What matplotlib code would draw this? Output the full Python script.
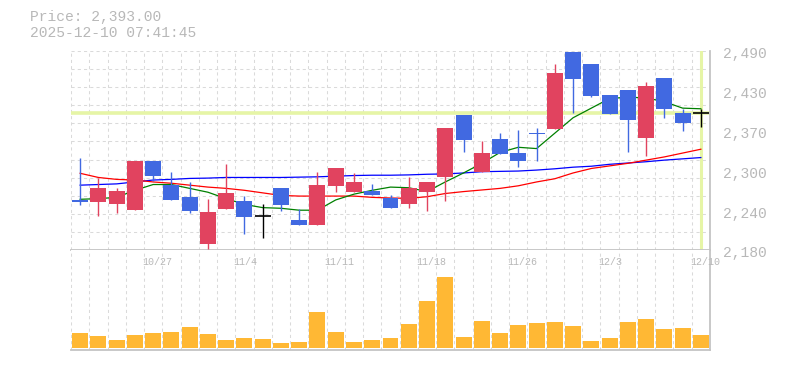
import matplotlib
matplotlib.use("Agg")
import matplotlib.pyplot as plt
import matplotlib.transforms as mtransforms
import numpy as np

# ---------------- data ----------------
dates = ["10/21", "10/22", "10/23", "10/24", "10/27", "10/28", "10/29", "10/30", "10/31",
         "11/4", "11/5", "11/6", "11/7", "11/10", "11/11", "11/12", "11/13", "11/14",
         "11/17", "11/18", "11/19", "11/20", "11/21", "11/25", "11/26", "11/27", "11/28",
         "12/1", "12/2", "12/3", "12/4", "12/5", "12/8", "12/9", "12/10"]
shown_dates = ["10/27", "11/4", "11/11", "11/18", "11/26", "12/3", "12/10"]

opens = [2258, 2254, 2252, 2242, 2319, 2281, 2263, 2190, 2244, 2256, 2233, 2277, 2226,
         2219, 2280, 2271, 2272, 2261, 2251, 2270, 2293, 2390, 2302, 2353, 2331, 2363,
         2369, 2488, 2470, 2422, 2429, 2355, 2448, 2393, 2393]
highs = [2324, 2292, 2277, 2319, 2319, 2302, 2286, 2259, 2314, 2264, 2252, 2277, 2244,
         2302, 2308, 2300, 2283, 2266, 2294, 2286, 2370, 2390, 2350, 2362, 2367, 2370,
         2470, 2488, 2470, 2422, 2429, 2442, 2448, 2400, 2400]
lows = [2250, 2233, 2238, 2242, 2288, 2258, 2238, 2182, 2244, 2205, 2199, 2241, 2219,
        2219, 2271, 2271, 2265, 2246, 2246, 2240, 2257, 2333, 2302, 2330, 2310, 2319,
        2369, 2394, 2418, 2392, 2333, 2327, 2386, 2366, 2371]
closes = [2254, 2277, 2272, 2319, 2295, 2258, 2240, 2239, 2269, 2232, 2233, 2250, 2219,
          2281, 2308, 2286, 2265, 2246, 2277, 2286, 2370, 2352, 2331, 2330, 2319, 2361,
          2456, 2447, 2420, 2392, 2383, 2436, 2400, 2378, 2393]

ma_short = [2259, 2260, 2262, 2273, 2282, 2282, 2276, 2270, 2260, 2251, 2246, 2245, 2242,
            2242, 2258, 2267, 2273, 2278, 2277, 2271, 2286, 2300, 2315, 2332, 2340, 2338,
            2362, 2386, 2401, 2416, 2418, 2417, 2411, 2401, 2400]
ma_mid = [2299.5, 2293, 2290, 2289, 2286, 2284, 2281, 2278, 2276, 2273, 2269, 2265, 2264,
          2264, 2264, 2264, 2262, 2261, 2260.5, 2263, 2268, 2271, 2273.5, 2276, 2280, 2286,
          2291, 2300, 2307, 2311, 2315, 2320, 2325, 2331, 2337]
ma_long = [2281, 2282, 2283, 2286, 2289, 2290, 2291.5, 2292, 2293, 2293, 2293, 2293, 2293.5,
           2294, 2295, 2296, 2296.5, 2296.5, 2297, 2298, 2298.5, 2300, 2302, 2302.5, 2303,
           2304.5, 2306.5, 2309, 2310.5, 2313.5, 2315.5, 2317.5, 2320, 2322, 2324]

volumes = [150, 120, 80, 130, 150, 160, 210, 140, 80, 100, 90, 50, 60, 360, 160, 60, 80,
           100, 240, 470, 710, 110, 270, 150, 230, 250, 260, 220, 70, 100, 260, 290, 190,
           200, 130]

current_price = 2393.00
timestamp = "2025-12-10 07:41:45"

y_min, y_max = 2180, 2490
y_tick_labels = ["2,180", "2,240", "2,300", "2,370", "2,430", "2,490"]

# ---------------- style ----------------
UP = "#e1435f"
DOWN = "#4169e1"
FLAT = "#000000"
VOL = "#ffb834"
GRID = "#dadada"
SPINE = "#c4c4c4"
TXT = "#b8b8b8"
HL = "#e6f5a6"
MONO = ["Liberation Mono", "DejaVu Sans Mono"]

fig = plt.figure(figsize=(7.85, 3.70), dpi=100)
W, H = 785, 370
ax = fig.add_axes([71 / W, 1 - 250 / H, 639 / W, 199 / H])
axv = fig.add_axes([71 / W, 1 - 350 / H, 639 / W, 100 / H])

n = len(dates)
x = np.arange(n)
o = np.array(opens, float)
h = np.array(highs, float)
l = np.array(lows, float)
c = np.array(closes, float)

for a in (ax, axv):
    a.set_xlim(-0.5, n - 0.5)
    for s in ("top", "left"):
        a.spines[s].set_visible(False)
    for s in ("bottom", "right"):
        a.spines[s].set_color(SPINE)
        a.spines[s].set_linewidth(1.3)
    a.set_xticks([])
    # vertical grid at bar boundaries
    for b in np.arange(-0.5, n - 0.5, 1.0):
        a.axvline(b, color=GRID, lw=0.75, ls=(0, (3, 3)), zorder=0)

# price axis
ax.set_ylim(y_min, y_max)
for g in np.linspace(y_min, y_max, 12)[1:]:
    ax.axhline(g, color=GRID, lw=0.75, ls=(0, (3, 3)), zorder=0)
ax.yaxis.tick_right()
ax.set_yticks(np.linspace(y_min, y_max, len(y_tick_labels)))
ax.set_yticklabels(y_tick_labels, family=MONO, fontsize=10.5, color=TXT)
ax.tick_params(axis="y", length=0, pad=9)
for lab in ax.get_yticklabels():
    lab.set_verticalalignment("center")
    lab.set_transform(lab.get_transform() + mtransforms.ScaledTranslation(0, -2.5 / 72, fig.dpi_scale_trans))

# current price highlight lines
ax.axhline(current_price, color=HL, lw=2.6, zorder=1)
ax.axvline(x[-1], color=HL, lw=2.2, zorder=1)

# moving averages
ax.plot(x, ma_long, color="#0000ff", lw=0.9, zorder=2)
ax.plot(x, ma_mid, color="#ff0000", lw=0.9, zorder=2)
ax.plot(x, ma_short, color="#008000", lw=0.9, zorder=2)

# candles
bw = 16 / 18.26
cols = [UP if cc > oo else (DOWN if cc < oo else FLAT) for oo, cc in zip(o, c)]
ax.vlines(x, l, h, colors=cols, lw=1.0, zorder=3)
body = np.abs(c - o)
mask = body > 0
ax.bar(x[mask], body[mask], bottom=np.minimum(o, c)[mask], width=bw,
       color=[cols[i] for i in range(n) if mask[i]], zorder=4, linewidth=0)
flat = ~mask
ax.hlines(c[flat], x[flat] - bw / 2, x[flat] + bw / 2, colors=FLAT, lw=1.2, zorder=4)

# volume axis
axv.bar(x, volumes, width=bw, color=VOL, zorder=3, linewidth=0)
axv.set_ylim(-20, 980)
axv.set_yticks([])

trans = mtransforms.offset_copy(
    mtransforms.blended_transform_factory(axv.transData, axv.transAxes),
    fig=fig, x=-11, y=0, units="dots")
for d in shown_dates:
    i = dates.index(d)
    axv.text(i, 0.88, d, transform=trans, ha="left", va="center",
             family=MONO, fontsize=7.2, color=TXT)

# header text
fig.text(30 / W, 1 - 17 / H, f"Price: {current_price:,.2f}", family=MONO, fontsize=10.5,
         color=TXT, ha="left", va="center")
fig.text(30 / W, 1 - 33 / H, timestamp, family=MONO, fontsize=10.5,
         color=TXT, ha="left", va="center")

fig.savefig("out.png", dpi=100)
